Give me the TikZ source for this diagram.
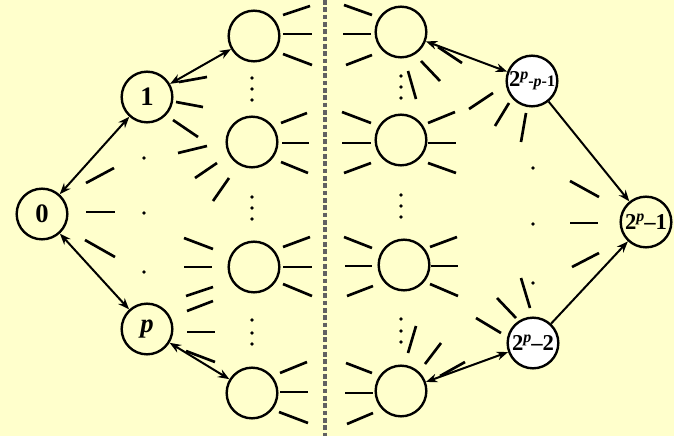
\documentclass[tikz,border=0pt]{standalone}
\usepackage{fontspec}
\setmainfont{Liberation Serif}
\usetikzlibrary{arrows.meta}
\definecolor{bg}{RGB}{255,255,204}
\begin{document}
\begin{tikzpicture}[x=0.75pt,y=-0.75pt,
  nd/.style={circle,draw,line width=1.8pt,minimum size=38pt,inner sep=0pt,font=\fontsize{20}{20}\selectfont\bfseries},
  wnd/.style={nd,fill=white,font=\fontsize{17}{18}\selectfont\bfseries},
  stub/.style={line width=2pt},
  tip/.tip={Stealth[length=8.5pt,width=6.5pt]},
  lnk/.style={line width=1.5pt,tip-tip},
  arr/.style={line width=1.5pt,-tip},
  sep/.style={line width=3.2pt,black!62,dash pattern=on 3.5pt off 2pt}]
\fill[bg] (0,0) rectangle (674,436);
\useasboundingbox (0,0) rectangle (674,436);

% separator
\draw[sep] (325,0) -- (325,436);

% nodes
\node[nd] (n0) at (42,214) {0};
\node[nd] (n1) at (147,97) {1};
\node[nd] (np) at (147,329) {\textit{p}};
\node[nd] (a1) at (254,36) {};
\node[nd] (a2) at (252,142) {};
\node[nd] (a3) at (254,267) {};
\node[nd] (a4) at (252,393) {};
\node[nd] (b1) at (401,32) {};
\node[nd] (b2) at (401,140) {};
\node[nd] (b3) at (404,265) {};
\node[nd] (b4) at (401,391) {};
\node[wnd] (m1) at (532,81) {2\raisebox{0.75ex}{\fontsize{12}{12}\selectfont\textit{p}}{\fontsize{12}{12}\selectfont -\textit{p}-1}};
\node[wnd] (m2) at (533,343) {2\raisebox{0.75ex}{\fontsize{12}{12}\selectfont\textit{p}}–2};
\node[nd,font=\fontsize{17}{18}\selectfont\bfseries] (t) at (646,222) {2\raisebox{0.75ex}{\fontsize{12}{12}\selectfont\textit{p}}–1};

% connectors
\draw[lnk] (n0) -- (n1);
\draw[lnk] (n0) -- (np);
\draw[lnk] (n1) -- (a1);
\draw[lnk] (np) -- (a4);
\draw[lnk] (b1) -- (m1);
\draw[lnk] (b4) -- (m2);
\draw[arr] (m1) -- (t);
\draw[arr] (m2) -- (t);

% stubs
\foreach \a/\b/\c/\d in {
  86/183/114/168, 86/212/115/212, 85/240/115/257,
  179/82/207/77, 176/102/203/107, 173/120/198/137,
  187/311/213/301, 187/332/215/332, 186/351/215/362,
  283/15/310/6, 283/34/312/34, 283/54/312/65,
  178/153/207/146, 195/178/217/163, 213/201/229/178,
  281/123/307/113, 282/143/309/143, 281/162/308/173,
  184/238/213/249, 184/267/212/267, 186/296/213/287,
  283/247/310/237, 283/267/312/267, 283/284/312/296,
  280/373/307/362, 280/392/308/392, 279/412/308/423,
  344/5/372/15, 343/34/371/34, 346/65/372/55,
  438/47/462/63, 421/61/440/81, 408/71/416/99,
  469/109/493/93, 495/126/509/103, 521/142/526/113,
  342/112/371/123, 342/143/371/143, 344/173/371/163,
  428/123/455/112, 428/143/456/143, 428/163/456/173,
  344/237/372/248, 345/266/372/266, 347/296/373/286,
  430/247/457/237, 431/266/458/266, 430/284/458/296,
  570/181/599/197, 570/223/598/223, 572/267/599/253,
  476/318/501/333, 497/298/516/318, 521/278/530/308,
  408/353/416/326, 425/364/441/343, 440/376/465/362,
  346/363/372/373, 345/393/373/393, 347/424/373/413}
  \draw[stub] (\a,\b) -- (\c,\d);

% dots
\foreach \x/\y in {
  144/158, 144/213, 144/272,
  252/78, 252/89, 252/100,
  252/197, 252/208, 252/219,
  252/320, 252/333, 252/344,
  401/76, 401/87, 401/98,
  401/195, 401/206, 401/217,
  401/319, 401/331, 401/342,
  533/168, 533/224, 533/283}
  \fill (\x,\y) circle[radius=1.4pt];
\end{tikzpicture}
\end{document}
